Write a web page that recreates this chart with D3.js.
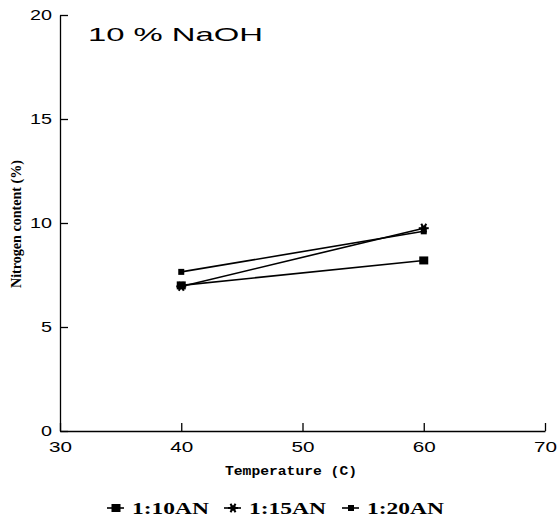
<!DOCTYPE html>
<meta charset="utf-8">
<style>
body{ margin:0; background:#fff; }
.axis path, .axis line{ stroke:#000; stroke-width:1.3px; }
.axis text{ font-family:"Liberation Sans", Arial, sans-serif; font-size:15px; fill:#000; }
.series{ fill:none; stroke:#000; stroke-width:1.6px; }
.legend text{ font-family:"Liberation Serif", serif; font-weight:bold; font-size:16px; }
</style>
<body>
<script src="https://cdn.jsdelivr.net/npm/d3@7/dist/d3.min.js"></script>
<script>

var temps = [40, 60];
var seriesNames = ["1:10AN", "1:15AN", "1:20AN"];
var n10 = [7.0, 8.2];
var n15 = [6.95, 9.75];
var n20 = [7.65, 9.6];
var xTicks = [30, 40, 50, 60, 70];
var yTicks = [0, 5, 10, 15, 20];

var data = [n10, n15, n20].map(function(v, i){
	return {name: seriesNames[i], values: temps.map(function(t, j){ return {x: t, y: v[j]}; })};
});

var svg = d3.select("body").append("svg").attr("width", 557).attr("height", 522);
svg.append("rect").attr("width", 557).attr("height", 522).attr("fill", "#fff");

var x = d3.scaleLinear().domain([30, 70]).range([60, 545]);
var y = d3.scaleLinear().domain([0, 20]).range([431, 15]);

var xAxis = svg.append("g").attr("class","axis").attr("transform","translate(0,431)")
	.call(d3.axisBottom(x).tickValues(xTicks).tickSize(-8).tickSizeOuter(0).tickPadding(10));
xAxis.selectAll("text").attr("textLength", 23).attr("lengthAdjust","spacingAndGlyphs");

var yAxis = svg.append("g").attr("class","axis").attr("transform","translate(60,0)")
	.call(d3.axisLeft(y).tickValues(yTicks).tickSize(-8).tickSizeOuter(0).tickPadding(8));
yAxis.selectAll("text").attr("textLength", function(d){ return String(d).length * 11; })
	.attr("lengthAdjust","spacingAndGlyphs");

// title
svg.append("text").attr("x", 88).attr("y", 41)
	.attr("textLength", 175).attr("lengthAdjust","spacingAndGlyphs")
	.style("font-family","Liberation Sans, Arial, sans-serif").style("font-size","19px")
	.text("10 % NaOH");

// axis titles
svg.append("text").attr("x", 291).attr("y", 475).attr("text-anchor","middle")
	.attr("textLength", 132).attr("lengthAdjust","spacingAndGlyphs")
	.style("font-family","Liberation Mono, monospace").style("font-weight","bold").style("font-size","13px")
	.text("Temperature (C)");

svg.append("text").attr("transform","translate(21,224) rotate(-90)").attr("text-anchor","middle")
	.attr("textLength", 128).attr("lengthAdjust","spacingAndGlyphs")
	.style("font-family","Liberation Serif, serif").style("font-weight","bold").style("font-size","14px")
	.text("Nitrogen content (%)");

var line = d3.line().x(d=>x(d.x)).y(d=>y(d.y));

function marker(g, i){
	if(i == 0){
		g.append("rect").attr("x",-4.5).attr("y",-4).attr("width",9).attr("height",8).attr("fill","#000");
	} else if(i == 1){
		[0, 60, 120].forEach(function(a){
			g.append("line").attr("x1",-5).attr("x2",5).attr("transform","rotate("+a+")")
				.attr("stroke","#000").attr("stroke-width",2);
		});
		g.append("rect").attr("x",-2.5).attr("y",-2.5).attr("width",5).attr("height",5).attr("fill","#000");
	} else {
		g.append("rect").attr("x",-3).attr("y",-3).attr("width",6).attr("height",6).attr("fill","#000");
	}
}

data.forEach(function(s, i){
	svg.append("path").attr("class","series").attr("d", line(s.values));
	s.values.forEach(function(p){
		marker(svg.append("g").attr("transform","translate("+x(p.x)+","+y(p.y)+")"), i);
	});
});

// legend
var legendX = [107, 224, 342];
var legend = svg.append("g").attr("class","legend");
seriesNames.forEach(function(name, i){
	var g = legend.append("g").attr("transform","translate("+legendX[i]+",508)");
	g.append("line").attr("x1",0).attr("x2",17).attr("stroke","#000").attr("stroke-width",1.6);
	marker(g.append("g").attr("transform","translate(9,0)"), i);
	g.append("text").attr("x",25).attr("y",6).attr("textLength",77).attr("lengthAdjust","spacingAndGlyphs").text(name);
});
</script>
</body>
</html>
